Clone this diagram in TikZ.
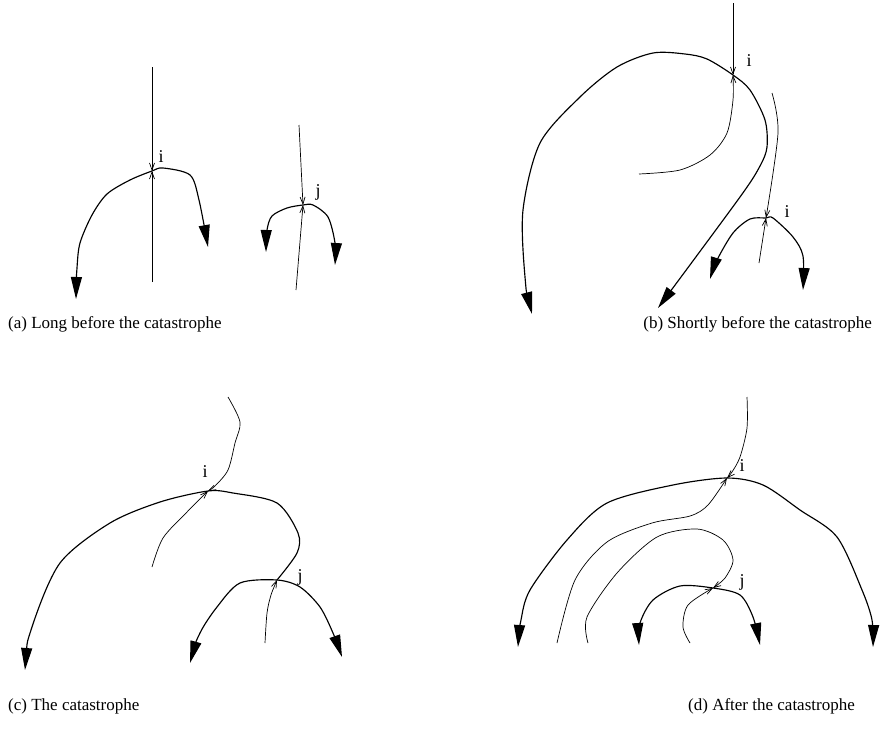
\documentclass[tikz,border=0pt]{standalone}
\usepackage{fontspec}
\setmainfont{Liberation Serif}
\usetikzlibrary{arrows.meta}

\begin{document}
\begin{tikzpicture}[
        x=1pt, y=-1pt,
        loopLine/.style={
            line width=1.15pt,
            smooth,
            tension=0.5
        },
        strandLine/.style={
            line width=0.7pt,
            smooth,
            tension=0.5,
            -{Straight Barb[length=7pt,width=5pt]}
        },
        bothHeads/.style={
            {Triangle[length=22pt,width=11pt]}-{Triangle[length=22pt,width=11pt]}
        },
        markLabel/.style={
            font=\fontsize{18}{21}\selectfont,
            anchor=center
        },
        captionText/.style={
            font=\fontsize{17}{20}\selectfont,
            anchor=base west,
            inner sep=0pt
        }
    ]
        \useasboundingbox (0,0) rectangle (880,736);

        % (a) long before
        \coordinate (ai) at (152,171);
        \coordinate (aj) at (303,205);
        \coordinate (aiTop) at (152,67);
        \coordinate (aiBot) at (152,282);
        \coordinate (ajTop) at (299,125);
        \coordinate (ajBot) at (296,290);

        \draw[strandLine] (aiTop) -- (ai);
        \draw[strandLine] (aiBot) -- (ai);
        \draw[strandLine] (ajTop) -- (aj);
        \draw[strandLine] (ajBot) -- (aj);

        \draw[loopLine, bothHeads] plot coordinates {(76,299) (77,268) (80,243) (92,215) (107,194) (130,180) (ai) (163,168) (190,175) (199,200) (208,247)};
        \draw[loopLine, bothHeads] plot coordinates {(266,252) (267,230) (272,216) (287,208) (aj) (313,205) (328,217) (335,243) (335,265)};

        \node[markLabel] (ai-lbl) at (161,157) {i};
        \node[markLabel] (aj-lbl) at (318,192) {j};

        % (b) shortly before
        \coordinate (bi) at (733,75);
        \coordinate (bk) at (766,218);
        \coordinate (biTop) at (733,3);
        \coordinate (biIn) at (639,174);
        \coordinate (bkTop) at (772,93);
        \coordinate (bkBot) at (759,263);

        \draw[strandLine] (biTop) -- (bi);
        \draw[strandLine] plot coordinates {(biIn) (680,170) (710,155) (727,133) (733,100) (bi)};
        \draw[strandLine] plot coordinates {(bkTop) (778,133) (bk)};
        \draw[strandLine] (bkBot) -- (bk);

        \draw[loopLine, bothHeads] plot coordinates {(532,314) (525,277) (523,210) (540,143) (580,97) (617,67) (653,53) (685,54) (707,59) (bi) (750,90) (765,120) (767,147) (760,166) (740,197) (658,308)};
        \draw[loopLine, bothHeads] plot coordinates {(710,279) (717,260) (733,233) (750,219) (bk) (773,218) (793,237) (803,256) (803,290)};

        \node[markLabel] (bi-lbl) at (749,61) {i};
        \node[markLabel] (bk-lbl) at (787,212) {i};

        % (c) the catastrophe
        \coordinate (ci) at (208,491);
        \coordinate (cj) at (277,580);
        \coordinate (ciTop) at (228,397);
        \coordinate (ciBot) at (152,567);
        \coordinate (cjBot) at (265,643);

        \draw[strandLine] plot coordinates {(ciTop) (240,422) (235,443) (228,470) (215,486) (ci)};
        \draw[strandLine] plot coordinates {(ciBot) (163,538) (187,512) (ci)};
        \draw[strandLine] plot coordinates {(cjBot) (267,613) (271,595) (cj)};

        \draw[loopLine, {Triangle[length=22pt,width=11pt]}-] plot coordinates {(25,670) (32,627) (60,563) (110,523) (160,502) (ci) (233,493) (277,503) (298,533) (297,553) (cj)};
        \draw[loopLine, bothHeads] plot coordinates {(190,663) (200,633) (217,607) (240,583) (cj) (300,587) (320,607) (333,633) (342,657)};

        \node[markLabel] (ci-lbl) at (205,472) {i};
        \node[markLabel] (cj-lbl) at (300,577) {j};

        % (d) after
        \coordinate (di) at (727,478);
        \coordinate (dj) at (713,588);
        \coordinate (diTop) at (747,397);
        \coordinate (diBot) at (557,643);
        \coordinate (djTop) at (588,643);
        \coordinate (djBot) at (690,643);

        \draw[strandLine] plot coordinates {(diTop) (747,428) (740,457) (732,472) (di)};
        \draw[strandLine] plot coordinates {(diBot) (575,580) (607,542) (652,523) (690,516) (708,505) (di)};
        \draw[strandLine] plot coordinates {(djTop) (587,617) (617,573) (657,537) (697,529) (723,540) (733,560) (725,578) (dj)};
        \draw[strandLine] plot coordinates {(djBot) (683,627) (688,605) (dj)};

        \draw[loopLine, bothHeads] plot coordinates {(518,647) (521,620) (530,590) (567,540) (607,503) (673,485) (di) (763,485) (800,510) (837,537) (862,590) (872,620) (873,647)};
        \draw[loopLine, bothHeads] plot coordinates {(639,645) (640,623) (653,600) (680,586) (dj) (740,595) (753,617) (760,645)};

        \node[markLabel] (di-lbl) at (742,466) {i};
        \node[markLabel] (dj-lbl) at (742,582) {j};

        % captions
        \node[captionText] (capA) at (8,328) {(a) Long before the catastrophe};
        \node[captionText, anchor=base east] (capB) at (872,328) {(b) Shortly before the catastrophe};
        \node[captionText] (capC) at (8,710) {(c) The catastrophe};
        \node[captionText] (capD) at (688,710) {(d) After the catastrophe};

    \end{tikzpicture}
\end{document}
